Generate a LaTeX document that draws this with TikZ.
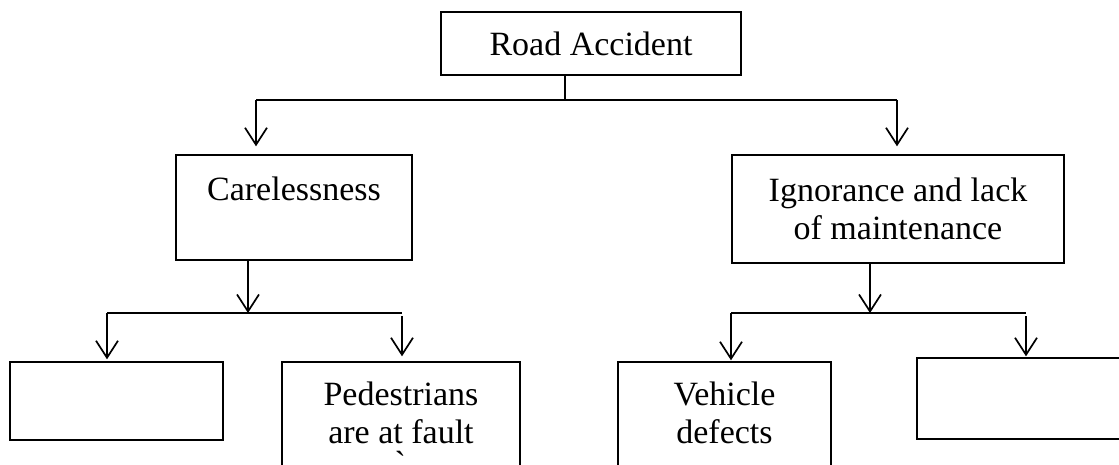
\documentclass[tikz,border=0pt]{standalone}
\usepackage{fontspec}
\setmainfont{Liberation Serif}
\usetikzlibrary{arrows.meta}

\tikzset{
  box/.style={draw, line width=1.4pt, align=center, inner sep=0pt,
    font=\fontsize{34}{38}\selectfont},
  link/.style={line width=1.4pt},
  arr/.style={line width=1.7pt, -{Straight Barb[length=17pt,width=22pt]}},
}

\begin{document}
\begin{tikzpicture}[x=1pt,y=-1pt]
  \useasboundingbox (0,0) rectangle (1119,465);
  \clip (0,0) rectangle (1119,465);

  % boxes
  \node[box, minimum width=300pt, minimum height=63pt] (road) at (591,43.5) {Road Accident};
  \node[box, minimum width=236pt, minimum height=105pt] (care) at (294,207.5) {Carelessness\\ \mbox{}};
  \node[box, minimum width=332pt, minimum height=108pt] (ign) at (898,209) {Ignorance and lack\\of maintenance};
  \node[box, minimum width=213pt, minimum height=78pt] (blanka) at (116.5,401) {};
  \node[box, minimum width=238pt, minimum height=140pt] (ped) at (401,432) {Pedestrians\\are at fault\\ \`{}};
  \node[box, minimum width=213pt, minimum height=140pt] (veh) at (724.5,432) {Vehicle\\defects\\ \mbox{}};
  \node[box, minimum width=213pt, minimum height=81pt] (blankb) at (1023.5,398.5) {};

  % junctions
  \coordinate (rj) at (565,100);
  \coordinate (rl) at (256,100);
  \coordinate (rr) at (897,100);
  \coordinate (cj) at (248,313);
  \coordinate (cl) at (107,313);
  \coordinate (cr) at (402,313);
  \coordinate (ij) at (870,313);
  \coordinate (il) at (731,313);
  \coordinate (ir) at (1026,313);

  % top level
  \draw[link] (road.south -| rj) -- (rj);
  \draw[link] (rl) -- (rr);
  \draw[arr, shorten >=8pt] (rl) -- (rl |- care.north);
  \draw[arr, shorten >=8pt] (rr) -- (rr |- ign.north);

  % under carelessness
  \draw[arr] (care.south -| cj) -- (cj);
  \draw[link] (cl) -- (cr);
  \draw[arr, shorten >=2pt] (cl) -- (cl |- blanka.north);
  \draw[arr, shorten >=5pt] ([yshift=-3pt]cr) -- (cr |- ped.north);

  % under ignorance
  \draw[arr] (ign.south -| ij) -- (ij);
  \draw[link] (il) -- (ir);
  \draw[arr, shorten >=1pt] (il) -- (il |- veh.north);
  \draw[arr, shorten >=1pt] ([yshift=-3pt]ir) -- (ir |- blankb.north);
\end{tikzpicture}
\end{document}
